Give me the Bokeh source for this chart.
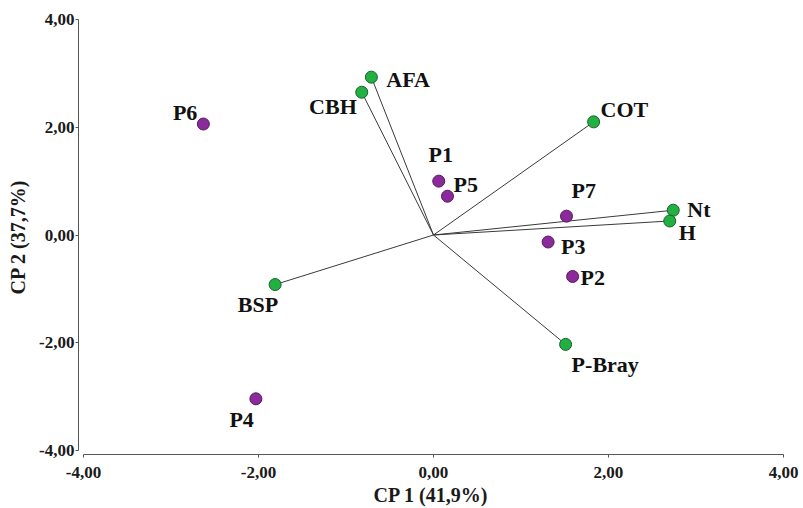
from bokeh.plotting import figure
from bokeh.models import FixedTicker, ColumnDataSource
from bokeh.core.properties import value, field
from bokeh.embed import file_html
from bokeh.resources import INLINE

# ---- data ----
samples = ["P1", "P2", "P3", "P4", "P5", "P6", "P7"]
sample_cp1 = [0.06, 1.59, 1.31, -2.03, 0.16, -2.63, 1.52]
sample_cp2 = [1.00, -0.77, -0.13, -3.04, 0.72, 2.06, 0.35]

variables = ["AFA", "CBH", "COT", "Nt", "H", "P-Bray", "BSP"]
var_cp1 = [-0.71, -0.82, 1.83, 2.74, 2.70, 1.51, -1.81]
var_cp2 = [2.93, 2.65, 2.10, 0.46, 0.26, -2.03, -0.92]

tick_values = [-4, -2, 0, 2, 4]
tick_labels = ["-4,00", "-2,00", "0,00", "2,00", "4,00"]
x_title = "CP 1 (41,9%)"
y_title = "CP 2 (37,7%)"

# ---- label placement (screen px offsets, alignment) ----
sample_label_align = ["center", "left", "left", "right", "left", "right", "left"]
sample_label_dx = [2, 8, 13, -2, 6, -6, 5]
sample_label_dy = [-27, 1, 4, 21, -12, -12, -26]

var_label_align = ["left", "right", "left", "left", "left", "left", "right"]
var_label_dx = [15, -5, 7, 14, 9, 6, 3]
var_label_dy = [2, 14, -12, -1, 12, 20, 20]

FONT = "Liberation Serif"

p = figure(width=803, height=508, x_range=(-4.057, 4.0), y_range=(-4.074, 4.0),
           output_backend="svg", toolbar_location=None,
           min_border_left=78, min_border_right=20, min_border_top=19, min_border_bottom=51)
p.outline_line_color = None
p.background_fill_color = "white"
p.border_fill_color = "white"
p.xgrid.visible = False
p.ygrid.visible = False

for ax in (p.xaxis[0], p.yaxis[0]):
    ax.ticker = FixedTicker(ticks=tick_values)
    ax.bounds = (tick_values[0], tick_values[-1])
    ax.major_label_overrides = {t: l for t, l in zip(tick_values, tick_labels)}
    ax.minor_tick_line_color = None
    ax.major_tick_in = 0
    ax.major_tick_out = 3
    ax.axis_line_color = "#555555"
    ax.major_tick_line_color = "#555555"
    ax.major_label_text_font = FONT
    ax.major_label_text_font_style = "bold"
    ax.major_label_text_font_size = "17px"
    ax.major_label_text_color = "#1a1a1a"
    ax.axis_label_text_font = FONT
    ax.axis_label_text_font_style = "bold"
    ax.axis_label_text_font_size = "20px"
    ax.axis_label_text_color = "#1a1a1a"

p.xaxis[0].axis_label = x_title
p.yaxis[0].axis_label = y_title
p.xaxis[0].major_label_standoff = 9
p.xaxis[0].axis_label_standoff = 3
p.yaxis[0].major_label_standoff = 1
p.yaxis[0].axis_label_standoff = 7

# vectors from origin
origin = [0.0] * len(variables)
p.segment(x0=origin, y0=origin, x1=var_cp1, y1=var_cp2, line_color="#3a3a3a", line_width=1)

src_s = ColumnDataSource(dict(x=sample_cp1, y=sample_cp2, t=samples,
                              a=sample_label_align, dx=sample_label_dx, dy=sample_label_dy))
src_v = ColumnDataSource(dict(x=var_cp1, y=var_cp2, t=variables,
                              a=var_label_align, dx=var_label_dx, dy=var_label_dy))

p.scatter("x", "y", source=src_v, size=12, fill_color="#22b043", line_color="#17622a", line_width=1)
p.scatter("x", "y", source=src_s, size=12, fill_color="#8b2a9a", line_color="#561a5e", line_width=1)

for src in (src_s, src_v):
    p.text("x", "y", text="t", source=src, x_offset="dx", y_offset="dy",
           text_align=field("a"), text_baseline="middle",
           text_font=value(FONT), text_font_style="bold", text_font_size="22px",
           text_color="#111111")

open("out.html", "w").write(file_html(p, INLINE))
